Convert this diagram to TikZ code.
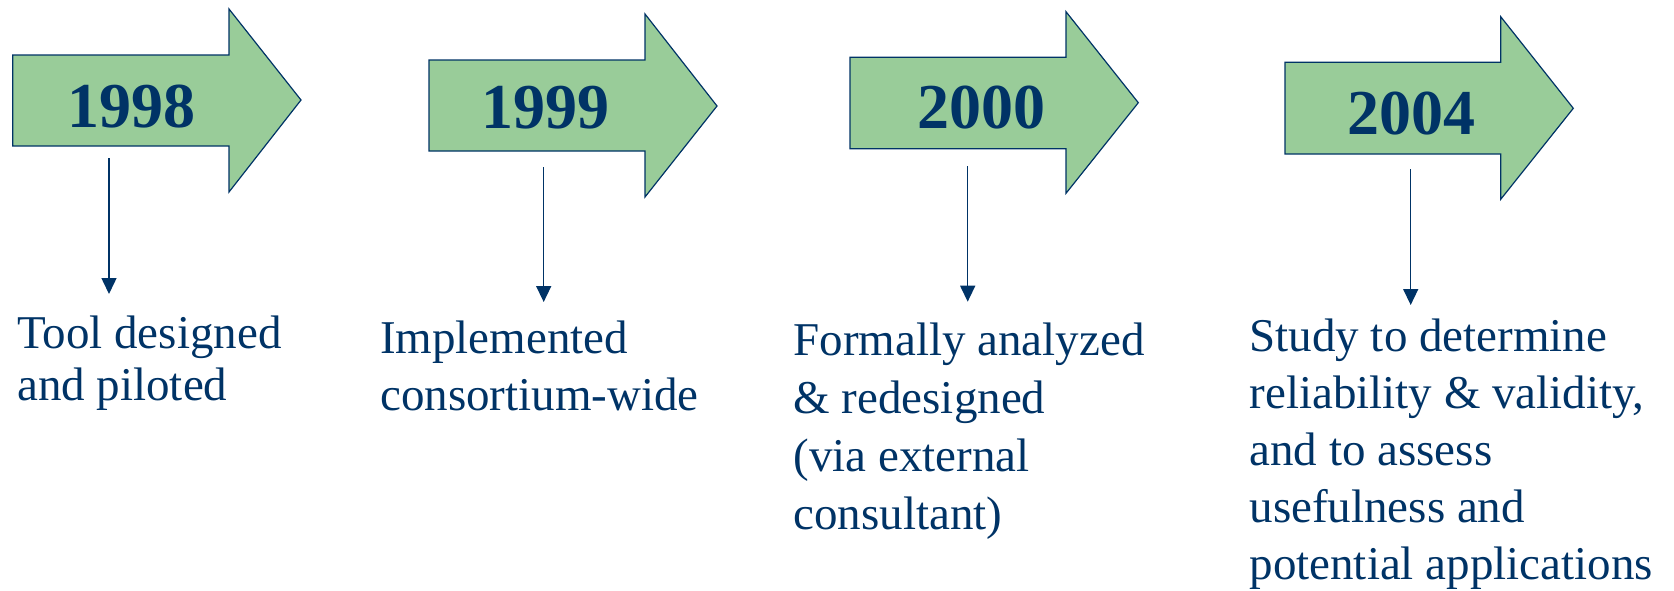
\documentclass[tikz,border=0pt]{standalone}
\usepackage{fontspec}
\setmainfont{Liberation Serif}
\usetikzlibrary{arrows.meta}
\definecolor{navy}{HTML}{003366}
\definecolor{leaf}{HTML}{99CC99}
\begin{document}
\begin{tikzpicture}[x=1pt,y=-1pt,
  bigarrow/.style={draw=navy,fill=leaf,line width=1.2pt,line join=miter},
  year/.style={anchor=base,inner sep=0pt,text=navy,font=\fontsize{64}{70}\selectfont\bfseries},
  drop/.style={draw=navy,line width=1.5pt,-{Triangle[width=15pt,length=16pt]}},
  desc/.style={anchor=base west,inner sep=0pt,text=navy,align=left},
]
\useasboundingbox (0,0) rectangle (1674,590);
% arrows
\draw[bigarrow] (12.7,55) -- (229,55) -- (229,9) -- (301,100) -- (229,192) -- (229,146) -- (12.7,146) -- cycle;
\draw[bigarrow] (429,60) -- (645,60) -- (645,14) -- (717,106) -- (645,197) -- (645,151) -- (429,151) -- cycle;
\draw[bigarrow] (850,57.3) -- (1066,57.3) -- (1066,11.7) -- (1138.3,102.7) -- (1066,193.3) -- (1066,148.7) -- (850,148.7) -- cycle;
\draw[bigarrow] (1285,62.3) -- (1500.7,62.3) -- (1500.7,16.7) -- (1573.3,108.3) -- (1500.7,199.3) -- (1500.7,154) -- (1285,154) -- cycle;
% years
\node[year] (y1) at (131.7,127) {1998};
\node[year] (y2) at (545.5,128) {1999};
\node[year] (y3) at (981.7,128.3) {2000};
\node[year] (y4) at (1411,134.3) {2004};
% connector ends
\coordinate (s1) at (109,158);   \coordinate (e1) at (109,294);
\coordinate (s2) at (543.7,167); \coordinate (e2) at (543.7,302);
\coordinate (s3) at (967.7,166); \coordinate (e3) at (967.7,301.7);
\coordinate (s4) at (1410.7,169);\coordinate (e4) at (1410.7,305);
\draw[drop] (s1) -- (e1);
\draw[drop] (s2) -- (e2);
\draw[drop] (s3) -- (e3);
\draw[drop] (s4) -- (e4);
% descriptions (anchored at the baseline of their last line)
\node[desc,font=\fontsize{47}{52}\selectfont] (t1) at (17,400) {Tool designed\\and piloted};
\node[desc,font=\fontsize{47}{57}\selectfont] (t2) at (380,410) {Implemented\\consortium-wide};
\node[desc,font=\fontsize{47}{58}\selectfont] (t3) at (793.3,529.3) {Formally analyzed\\\& redesigned\\(via external\\consultant)};
\node[desc,font=\fontsize{47}{57}\selectfont] (t4) at (1249.3,579.3) {Study to determine\\reliability \& validity,\\and to assess\\usefulness and\\potential applications};
\end{tikzpicture}
\end{document}
